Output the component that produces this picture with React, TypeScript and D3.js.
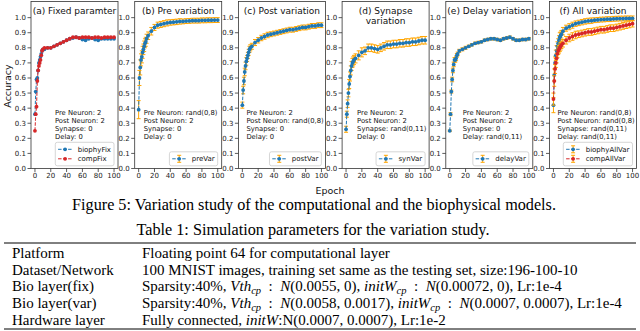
import { useEffect, useRef } from "react";
import * as d3 from "d3";

const epochs = [0, 1, 2, 3, 4, 5, 6, 7, 8, 9, 10, 12, 16, 20, 24, 28, 32, 36, 40, 44, 48, 52, 56, 60, 64, 68, 72, 76, 80, 84, 88, 92, 96, 100];

const biophyFix = [0.36, 0.51, 0.59, 0.6, 0.65, 0.7, 0.72, 0.74, 0.76, 0.78, 0.79, 0.79, 0.8, 0.8, 0.81, 0.82, 0.83, 0.84, 0.85, 0.86, 0.865, 0.87, 0.865, 0.855, 0.85, 0.86, 0.865, 0.855, 0.85, 0.86, 0.86, 0.86, 0.86, 0.86];
const compFix = [0.25, 0.36, 0.41, 0.58, 0.65, 0.68, 0.7, 0.72, 0.75, 0.78, 0.79, 0.8, 0.8, 0.8, 0.81, 0.82, 0.83, 0.84, 0.85, 0.86, 0.87, 0.87, 0.865, 0.87, 0.87, 0.87, 0.865, 0.87, 0.87, 0.865, 0.87, 0.87, 0.87, 0.87];

const preVar = [0.39, 0.6, 0.67, 0.72, 0.74, 0.77, 0.79, 0.81, 0.83, 0.84, 0.86, 0.88, 0.91, 0.935, 0.95, 0.955, 0.96, 0.965, 0.968, 0.97, 0.972, 0.975, 0.975, 0.977, 0.978, 0.98, 0.98, 0.98, 0.982, 0.982, 0.983, 0.983, 0.984, 0.984];
const preErr = [0.06, 0.05, 0.05, 0.04, 0.04, 0.04, 0.035, 0.035, 0.03, 0.03, 0.03, 0.025, 0.025, 0.02, 0.02, 0.02, 0.02, 0.02, 0.018, 0.018, 0.018, 0.018, 0.016, 0.016, 0.016, 0.016, 0.016, 0.016, 0.016, 0.016, 0.016, 0.016, 0.016, 0.016];

const postVar = [0.42, 0.52, 0.58, 0.64, 0.68, 0.71, 0.73, 0.75, 0.77, 0.79, 0.8, 0.81, 0.835, 0.85, 0.865, 0.875, 0.885, 0.89, 0.895, 0.9, 0.905, 0.91, 0.915, 0.92, 0.92, 0.925, 0.93, 0.935, 0.935, 0.94, 0.945, 0.945, 0.95, 0.95];
const postErr = [0.02, 0.025, 0.025, 0.025, 0.025, 0.025, 0.02, 0.02, 0.02, 0.02, 0.02, 0.02, 0.02, 0.018, 0.018, 0.018, 0.018, 0.016, 0.016, 0.016, 0.016, 0.016, 0.016, 0.016, 0.016, 0.016, 0.016, 0.016, 0.016, 0.016, 0.016, 0.016, 0.016, 0.016];

const synVar = [0.26, 0.36, 0.43, 0.5, 0.56, 0.61, 0.65, 0.68, 0.7, 0.71, 0.72, 0.73, 0.75, 0.77, 0.78, 0.8, 0.8, 0.795, 0.79, 0.8, 0.81, 0.82, 0.82, 0.825, 0.825, 0.83, 0.83, 0.835, 0.835, 0.84, 0.84, 0.845, 0.85, 0.85];
const synErr = [0.02, 0.02, 0.025, 0.025, 0.03, 0.03, 0.03, 0.03, 0.03, 0.03, 0.03, 0.03, 0.03, 0.03, 0.025, 0.025, 0.025, 0.025, 0.025, 0.025, 0.025, 0.025, 0.025, 0.025, 0.025, 0.025, 0.025, 0.025, 0.025, 0.025, 0.025, 0.025, 0.025, 0.025];

const delayVar = [0.25, 0.36, 0.51, 0.59, 0.65, 0.69, 0.72, 0.72, 0.73, 0.75, 0.76, 0.78, 0.79, 0.8, 0.81, 0.82, 0.83, 0.835, 0.84, 0.85, 0.855, 0.86, 0.86, 0.855, 0.85, 0.86, 0.865, 0.87, 0.86, 0.85, 0.85, 0.855, 0.855, 0.86];
const delayErr = [0.005, 0.01, 0.01, 0.015, 0.015, 0.015, 0.015, 0.015, 0.015, 0.012, 0.012, 0.01, 0.01, 0.01, 0.008, 0.008, 0.008, 0.008, 0.008, 0.008, 0.008, 0.008, 0.008, 0.008, 0.008, 0.008, 0.008, 0.008, 0.008, 0.008, 0.008, 0.008, 0.008, 0.008];

const biophyAllVar = [0.42, 0.62, 0.7, 0.75, 0.78, 0.81, 0.83, 0.85, 0.87, 0.88, 0.89, 0.91, 0.93, 0.94, 0.95, 0.96, 0.965, 0.97, 0.975, 0.978, 0.98, 0.983, 0.985, 0.987, 0.988, 0.99, 0.99, 0.992, 0.993, 0.994, 0.994, 0.995, 0.995, 0.995];
const biophyAllErr = [0.05, 0.04, 0.04, 0.035, 0.035, 0.03, 0.03, 0.03, 0.03, 0.025, 0.025, 0.025, 0.02, 0.02, 0.02, 0.018, 0.018, 0.018, 0.018, 0.018, 0.018, 0.016, 0.016, 0.016, 0.016, 0.016, 0.016, 0.016, 0.016, 0.016, 0.016, 0.016, 0.016, 0.016];
const compAllVar = [0.46, 0.58, 0.66, 0.7, 0.73, 0.76, 0.78, 0.79, 0.8, 0.81, 0.82, 0.83, 0.85, 0.865, 0.875, 0.885, 0.89, 0.895, 0.9, 0.905, 0.905, 0.91, 0.915, 0.92, 0.92, 0.925, 0.93, 0.93, 0.935, 0.94, 0.945, 0.95, 0.955, 0.96];
const compAllErr = [0.04, 0.035, 0.03, 0.03, 0.03, 0.025, 0.025, 0.025, 0.025, 0.025, 0.025, 0.025, 0.025, 0.025, 0.025, 0.025, 0.022, 0.022, 0.022, 0.022, 0.022, 0.022, 0.022, 0.022, 0.022, 0.022, 0.022, 0.022, 0.022, 0.022, 0.022, 0.022, 0.022, 0.022];

const xTicks = [0, 20, 40, 60, 80, 100];
const yTicks = [0, 0.1, 0.2, 0.3, 0.4, 0.5, 0.6, 0.7, 0.8, 0.9, 1.0];

const panelTitles = [
  ["(a) Fixed paramter"],
  ["(b) Pre variation"],
  ["(c) Post variation"],
  ["(d) Synapse", "variation"],
  ["(e) Delay variation"],
  ["(f) All variation"],
];
const panelInfo = [
  ["Pre Neuron: 2", "Post Neuron: 2", "Synapse: 0", "Delay: 0"],
  ["Pre Neuron: rand(0,8)", "Post Neuron: 2", "Synapse: 0", "Delay: 0"],
  ["Pre Neuron: 2", "Post Neuron: rand(0,8)", "Synapse: 0", "Delay: 0"],
  ["Pre Neuron: 2", "Post Neuron: 2", "Synapse: rand(0,11)", "Delay: 0"],
  ["Pre Neuron: 2", "Post Neuron: 2", "Synapse: 0", "Delay: rand(0,11)"],
  ["Pre Neuron: rand(0,8)", "Post Neuron: rand(0,8)", "Synapse: rand(0,11)", "Delay: rand(0,11)"],
];
const infoOffset = [24, 9, 8, 15, 17, 8];

const tableRows = [
  "Platform",
  "Dataset/Network",
  "Bio layer(fix)",
  "Bio layer(var)",
  "Hardware layer",
];

const BLUE = "#1f77b4";
const RED = "#d62728";
const ORANGE = "#ffa500";
const SANS = "DejaVu Sans";
const SERIF = "Liberation Serif";

type Series = { name: string; values: number[]; err?: number[]; color: string };

const panelSeries: Series[][] = [
  [
    { name: "biophyFix", values: biophyFix, color: BLUE },
    { name: "compFix", values: compFix, color: RED },
  ],
  [{ name: "preVar", values: preVar, err: preErr, color: BLUE }],
  [{ name: "postVar", values: postVar, err: postErr, color: BLUE }],
  [{ name: "synVar", values: synVar, err: synErr, color: BLUE }],
  [{ name: "delayVar", values: delayVar, err: delayErr, color: BLUE }],
  [
    { name: "biophyAllVar", values: biophyAllVar, err: biophyAllErr, color: BLUE },
    { name: "compAllVar", values: compAllVar, err: compAllErr, color: RED },
  ],
];

const W = 640;
const H = 331;

export default function App() {
  const svgRef = useRef<SVGSVGElement>(null);

  useEffect(() => {
    const svg = d3.select(svgRef.current);
    svg.selectAll("*").remove();

    const top = 1.5;
    const bottom = 168.5;
    const pw = 87;
    const y = d3.scaleLinear().domain([0, 1.107]).range([bottom, top]);

    panelSeries.forEach((seriesList, i) => {
      const left = 31 + i * 103.7;
      const x = d3.scaleLinear().domain([-5, 105]).range([left, left + pw]);
      const g = svg.append("g");

      // frame
      g.append("rect")
        .attr("x", left)
        .attr("y", top)
        .attr("width", pw)
        .attr("height", bottom - top)
        .attr("fill", "white")
        .attr("stroke", "#333")
        .attr("stroke-width", 0.8);

      // x ticks
      xTicks.forEach((t) => {
        g.append("line")
          .attr("x1", x(t)).attr("x2", x(t))
          .attr("y1", bottom).attr("y2", bottom + 3.5)
          .attr("stroke", "#333").attr("stroke-width", 0.8);
        g.append("text")
          .attr("x", x(t)).attr("y", bottom + 9)
          .attr("text-anchor", "middle")
          .style("font-family", SANS).style("font-size", "7px")
          .attr("fill", "#222")
          .text(t);
      });

      // y ticks
      yTicks.forEach((t) => {
        g.append("line")
          .attr("x1", left - 3.5).attr("x2", left)
          .attr("y1", y(t)).attr("y2", y(t))
          .attr("stroke", "#333").attr("stroke-width", 0.8);
        g.append("text")
          .attr("x", left - 5).attr("y", y(t) + 2.5)
          .attr("text-anchor", "end")
          .style("font-family", SANS).style("font-size", "7px")
          .attr("fill", "#222")
          .text(t.toFixed(1));
      });

      // title
      panelTitles[i].forEach((line, k) => {
        g.append("text")
          .attr("x", left + pw / 2).attr("y", 13.5 + k * 10)
          .attr("text-anchor", "middle")
          .style("font-family", SANS).style("font-size", "9px")
          .attr("fill", "#111")
          .text(line);
      });

      // data
      const line = d3
        .line<number>()
        .x((d, j) => x(epochs[j]))
        .y((d) => y(d));

      seriesList.forEach((s) => {
        if (s.err) {
          const eb = g.append("g").attr("stroke", ORANGE).attr("stroke-width", 1);
          s.values.forEach((v, j) => {
            const cx = x(epochs[j]);
            const e = s.err![j];
            eb.append("line").attr("x1", cx).attr("x2", cx).attr("y1", y(v - e)).attr("y2", y(v + e));
            eb.append("line").attr("x1", cx - 2).attr("x2", cx + 2).attr("y1", y(v - e)).attr("y2", y(v - e));
            eb.append("line").attr("x1", cx - 2).attr("x2", cx + 2).attr("y1", y(v + e)).attr("y2", y(v + e));
          });
        }
        g.append("path")
          .datum(s.values)
          .attr("d", line)
          .attr("fill", "none")
          .attr("stroke", s.color)
          .attr("stroke-width", 1)
          .attr("stroke-dasharray", "3.5,1.5");
        g.selectAll(null)
          .data(s.values)
          .enter()
          .append("circle")
          .attr("cx", (d, j) => x(epochs[j]))
          .attr("cy", (d) => y(d))
          .attr("r", 1.9)
          .attr("fill", s.color);
      });

      // parameter text
      panelInfo[i].forEach((t, k) => {
        g.append("text")
          .attr("x", left + infoOffset[i]).attr("y", 115 + k * 8)
          .style("font-family", SANS).style("font-size", "6.8px")
          .attr("fill", "#111")
          .text(t);
      });

      // legend (lower right)
      const n = seriesList.length;
      const boxH = 4.5 + n * 9.5;
      const boxBottom = 165.8;
      const boxTop = boxBottom - boxH;
      const lg = g.append("g");
      const rect = lg.append("rect")
        .attr("y", boxTop).attr("height", boxH)
        .attr("rx", 2)
        .attr("fill", "white").attr("fill-opacity", 0.85)
        .attr("stroke", "#cccccc").attr("stroke-width", 0.8);
      const texts = seriesList.map((s, k) =>
        lg.append("text")
          .attr("y", boxTop + 7 + k * 9.5 + 2.4)
          .style("font-family", SANS).style("font-size", "7px")
          .attr("fill", "#111")
          .text(s.name)
      );
      const maxW = d3.max(texts, (t) => (t.node() as SVGTextElement).getComputedTextLength()) ?? 30;
      const boxW = 22.4 + maxW + 3;
      const boxLeft = left + pw - 4 - boxW;
      rect.attr("x", boxLeft).attr("width", boxW);
      texts.forEach((t) => t.attr("x", boxLeft + 22.4));
      seriesList.forEach((s, k) => {
        const cy = boxTop + 7 + k * 9.5;
        const cx = boxLeft + 2.8 + 7;
        if (s.err) {
          lg.append("line").attr("x1", cx).attr("x2", cx).attr("y1", cy - 3.5).attr("y2", cy + 3.5).attr("stroke", ORANGE).attr("stroke-width", 1);
          lg.append("line").attr("x1", cx - 2).attr("x2", cx + 2).attr("y1", cy - 3.5).attr("y2", cy - 3.5).attr("stroke", ORANGE).attr("stroke-width", 1);
          lg.append("line").attr("x1", cx - 2).attr("x2", cx + 2).attr("y1", cy + 3.5).attr("y2", cy + 3.5).attr("stroke", ORANGE).attr("stroke-width", 1);
        }
        lg.append("line")
          .attr("x1", boxLeft + 2.8).attr("x2", boxLeft + 16.8)
          .attr("y1", cy).attr("y2", cy)
          .attr("stroke", s.color).attr("stroke-width", 1)
          .attr("stroke-dasharray", "3.5,1.5");
        lg.append("circle").attr("cx", cx).attr("cy", cy).attr("r", 1.9).attr("fill", s.color);
      });
    });

    // shared axis labels
    svg.append("text")
      .attr("transform", "translate(10.5, 86) rotate(-90)")
      .attr("text-anchor", "middle")
      .style("font-family", SANS).style("font-size", "9.5px")
      .attr("fill", "#111")
      .text("Accuracy");
    svg.append("text")
      .attr("x", 330).attr("y", 194)
      .attr("text-anchor", "middle")
      .style("font-family", SANS).style("font-size", "9.5px")
      .attr("fill", "#111")
      .text("Epoch");

    // caption and table
    svg.append("text")
      .attr("x", 314).attr("y", 209.5)
      .attr("text-anchor", "middle")
      .style("font-family", SERIF).style("font-size", "16.2px")
      .text("Figure 5: Variation study of the computational and the biophysical models.");
    svg.append("text")
      .attr("x", 313).attr("y", 235)
      .attr("text-anchor", "middle")
      .style("font-family", SERIF).style("font-size", "16.2px")
      .text("Table 1: Simulation parameters for the variation study.");

    svg.append("line").attr("x1", 4).attr("x2", 636).attr("y1", 243).attr("y2", 243).attr("stroke", "black").attr("stroke-width", 1);
    svg.append("line").attr("x1", 4).attr("x2", 636).attr("y1", 329).attr("y2", 329).attr("stroke", "black").attr("stroke-width", 1);

    const rowY = (k: number) => 258 + k * 16.7;
    tableRows.forEach((r, k) => {
      svg.append("text")
        .attr("x", 12).attr("y", rowY(k))
        .style("font-family", SERIF).style("font-size", "15px")
        .text(r);
    });

    // second column; [text, italic, subscript] pieces
    type Piece = [string, boolean?, boolean?];
    const cells: Piece[][] = [
      [["Floating point 64 for computational layer"]],
      [["100 MNIST images, training set same as the testing set, size:196-100-10"]],
      [["Sparsity:40%, "], ["Vth", true], ["cp", true, true], ["  :  "], ["N", true], ["(0.0055, 0), "], ["initW", true], ["cp", true, true], ["  :  "], ["N", true], ["(0.00072, 0), Lr:1e-4"]],
      [["Sparsity:40%, "], ["Vth", true], ["cp", true, true], ["  :  "], ["N", true], ["(0.0058, 0.0017), "], ["initW", true], ["cp", true, true], ["  :  "], ["N", true], ["(0.0007, 0.0007), Lr:1e-4"]],
      [["Fully connected, "], ["initW", true], [":N(0.0007, 0.0007), Lr:1e-2"]],
    ];
    cells.forEach((pieces, k) => {
      const t = svg.append("text")
        .attr("x", 142).attr("y", rowY(k))
        .style("font-family", SERIF).style("font-size", "15px")
        .style("white-space", "pre");
      let sub = false;
      pieces.forEach(([s, it, isSub]) => {
        const ts = t.append("tspan").text(s);
        if (it) ts.style("font-style", "italic");
        if (isSub) {
          ts.attr("dy", 3).style("font-size", "10.5px");
          sub = true;
        } else if (sub) {
          ts.attr("dy", -3);
          sub = false;
        }
      });
    });
  }, []);

  return (
    <svg
      ref={svgRef}
      width={W}
      height={H}
      viewBox={`0 0 ${W} ${H}`}
      style={{ position: "absolute", left: 0, top: 0, background: "white" }}
    ></svg>
  );
}
